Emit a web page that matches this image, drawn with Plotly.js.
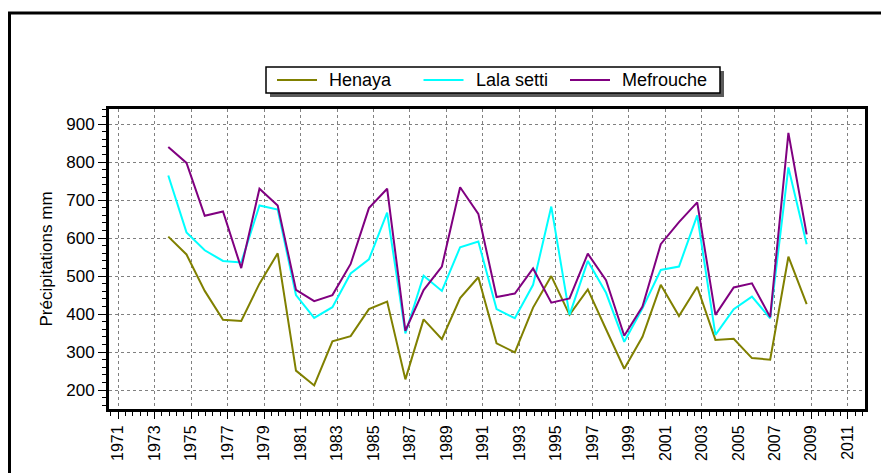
<!DOCTYPE html>
<html>
<head>
<meta charset="utf-8">
<script src="https://cdn.plot.ly/plotly-3.0.1.min.js"></script>
<style>
  html, body { margin: 0; padding: 0; background: #fff; }
  #chart { width: 881px; height: 473px; }
</style>
</head>
<body>
<div id="chart"></div>
<script>
// Annual rainfall (mm) at three stations, by hydrological year (1973/74 … 2008/09)
const years = [1974, 1975, 1976, 1977, 1978, 1979, 1980, 1981, 1982, 1983, 1984, 1985,
               1986, 1987, 1988, 1989, 1990, 1991, 1992, 1993, 1994, 1995, 1996, 1997,
               1998, 1999, 2000, 2001, 2002, 2003, 2004, 2005, 2006, 2007, 2008, 2009];

const henaya = [604, 557, 461, 385, 382, 480, 560, 251, 212, 328, 342, 413,
                433, 228, 386, 334, 442, 497, 323, 299, 417, 500, 398, 465,
                360, 256, 340, 477, 395, 472, 332, 335, 284, 280, 551, 426];

const lalaSetti = [765, 615, 568, 540, 536, 686, 675, 450, 390, 418, 507, 544,
                   667, 349, 501, 461, 576, 591, 413, 389, 477, 683, 398, 540,
                   456, 327, 415, 516, 525, 660, 345, 413, 446, 389, 786, 584];

const mefrouche = [840, 798, 659, 670, 521, 730, 686, 464, 434, 450, 532, 679,
                   730, 356, 463, 525, 734, 664, 445, 454, 520, 430, 441, 559,
                   489, 343, 420, 584, 642, 694, 398, 470, 481, 392, 877, 610];

const seriesNames = ['Henaya', 'Lala setti', 'Mefrouche'];
const seriesColors = ['#808000', '#00ffff', '#800080'];

// A hydrological year runs September–August; each value sits at its October start.
const xDates = years.map(y => (y - 1) + '-10-01');

const traces = [henaya, lalaSetti, mefrouche].map((vals, i) => ({
  type: 'scatter',
  mode: 'lines',
  name: seriesNames[i],
  x: xDates,
  y: vals,
  line: { color: seriesColors[i], width: 2 },
  showlegend: false
}));

const FONT = 'Liberation Sans, Arial, sans-serif';
const L = 109, R = 16, T = 109, B = 64, W = 881, H = 473;
const pw = W - L - R, ph = H - T - B;
const px = v => (v - L) / pw;          // pixel -> paper x
const py = v => (H - B - v) / ph;      // pixel -> paper y

// 0.4-year minor tick spacing in milliseconds
const minorStep = 0.4 * 365.25 * 24 * 3600 * 1000;

// Boxed key above the plot: shadow, frame, then one sample line + label per series
const key = { left: 266, right: 720, top: 67, bottom: 93, firstLine: 277, step: 146.5, lineLen: 40, textGap: 11 };
const keyMid = (key.top + key.bottom) / 2;

const shapes = [
  // outer frame of the figure
  { type: 'rect', xref: 'paper', yref: 'paper', layer: 'below',
    x0: px(9.5), x1: px(900), y0: py(500), y1: py(13),
    line: { color: '#000', width: 3 }, fillcolor: 'rgba(0,0,0,0)' },
  // key shadow
  { type: 'rect', xref: 'paper', yref: 'paper', layer: 'above',
    x0: px(key.left + 4), x1: px(key.right + 4), y0: py(key.bottom + 4), y1: py(key.top + 4),
    line: { width: 0 }, fillcolor: '#5a5a5a' },
  // key box
  { type: 'rect', xref: 'paper', yref: 'paper', layer: 'above',
    x0: px(key.left), x1: px(key.right), y0: py(key.bottom), y1: py(key.top),
    line: { color: '#000', width: 1.5 }, fillcolor: '#ffffff' }
];
const annotations = [];
seriesNames.forEach((name, i) => {
  const x0 = key.firstLine + i * key.step;
  shapes.push({ type: 'line', xref: 'paper', yref: 'paper', layer: 'above',
    x0: px(x0), x1: px(x0 + key.lineLen), y0: py(keyMid), y1: py(keyMid),
    line: { color: seriesColors[i], width: 2 } });
  annotations.push({ xref: 'paper', yref: 'paper', showarrow: false,
    x: px(x0 + key.lineLen + key.textGap), y: py(keyMid),
    xanchor: 'left', yanchor: 'middle', borderpad: 0,
    text: name, font: { family: FONT, size: 18, color: '#000' } });
});

const layout = {
  width: W,
  height: H,
  margin: { l: L, r: R, t: T, b: B, pad: 0 },
  paper_bgcolor: '#ffffff',
  plot_bgcolor: '#ffffff',
  font: { family: FONT, color: '#000' },
  showlegend: false,
  xaxis: {
    type: 'date',
    range: ['1970-07-02', '2011-12-13'],
    tick0: '1971-01-01',
    dtick: 'M24',
    tickformat: '%Y',
    tickangle: -90,
    tickfont: { family: FONT, size: 16, color: '#000' },
    ticks: 'outside',
    ticklen: 7,
    tickwidth: 1,
    tickcolor: '#000',
    showgrid: true,
    gridcolor: '#808080',
    griddash: 'dot',
    gridwidth: 1,
    showline: true,
    linecolor: '#000',
    linewidth: 3,
    mirror: true,
    zeroline: false,
    minor: {
      tick0: '1971-01-01',
      dtick: minorStep,
      ticks: 'outside',
      ticklen: 4,
      tickwidth: 1,
      tickcolor: '#000',
      showgrid: false
    }
  },
  yaxis: {
    range: [150, 940],
    tick0: 0,
    dtick: 100,
    tickfont: { family: FONT, size: 17, color: '#000' },
    ticks: 'outside',
    ticklen: 8,
    tickwidth: 1,
    tickcolor: '#000',
    showgrid: true,
    gridcolor: '#808080',
    griddash: 'dot',
    gridwidth: 1,
    showline: true,
    linecolor: '#000',
    linewidth: 3,
    mirror: true,
    zeroline: false,
    title: { text: 'Précipitations mm', font: { family: FONT, size: 17, color: '#000' }, standoff: 10 },
    minor: {
      dtick: 20,
      ticks: 'outside',
      ticklen: 4,
      tickwidth: 1,
      tickcolor: '#000',
      showgrid: false
    }
  },
  shapes: shapes,
  annotations: annotations
};

Plotly.newPlot('chart', traces, layout, { staticPlot: true, displayModeBar: false });
</script>
</body>
</html>
